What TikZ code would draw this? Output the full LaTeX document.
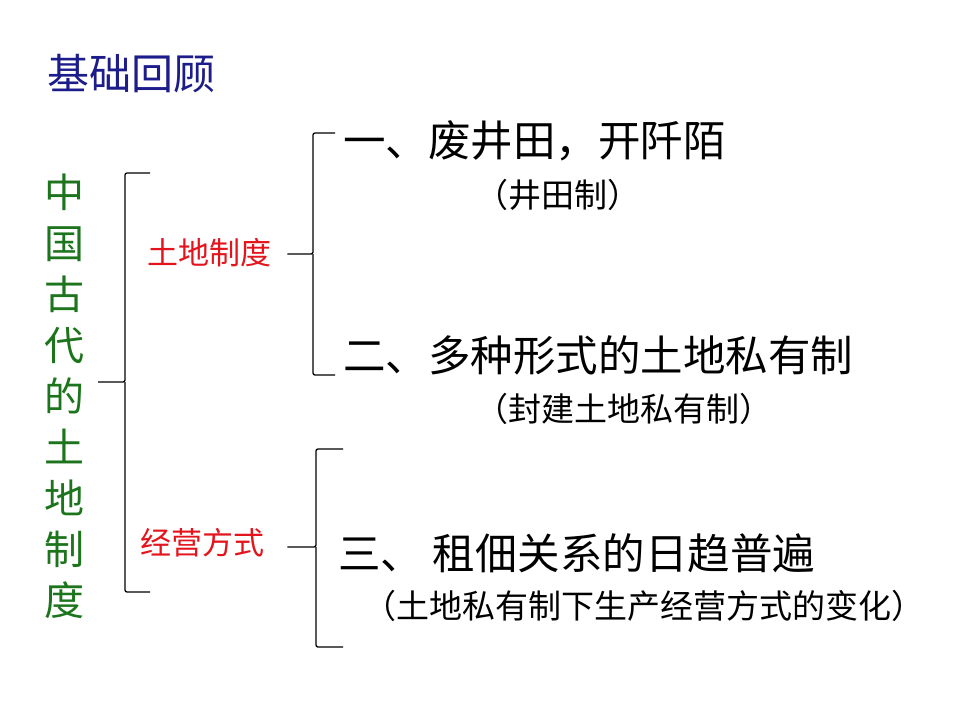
\documentclass[tikz,border=0pt]{standalone}
\usepackage{fontspec}
\setmainfont{Noto Sans CJK SC}
\usetikzlibrary{positioning}
\definecolor{Navy}{HTML}{1C1C8A}
\definecolor{Leaf}{HTML}{1C741C}
\definecolor{Crimson}{HTML}{E3141C}
\tikzset{
  heading/.style={inner sep=0pt,anchor=west,text=Navy,font=\fontsize{42}{42}\selectfont},
  column/.style={inner sep=0pt,align=center,text=Leaf,font=\fontsize{40}{51}\selectfont},
  branch/.style={inner sep=0pt,anchor=west,text=Crimson,font=\fontsize{31}{31}\selectfont},
  item/.style={inner sep=0pt,anchor=west,text=black,font=\fontsize{42.5}{42.5}\selectfont},
  note/.style={inner sep=0pt,anchor=west,text=black,font=\fontsize{33}{33}\selectfont},
  brace/.style={draw=black,line width=1.3pt,rounded corners=2pt},
}

\begin{document}
\begin{tikzpicture}[x=1pt,y=-1pt]
        \useasboundingbox (0,0) rectangle (960,720);
        \node[heading] (title) at (47,74) {基础回顾};
        \node[column] (topic) at (64,396) {中\\国\\古\\代\\的\\土\\地\\制\\度};
        \node[branch] (land) at (147,253) {土地制度};
        \node[branch] (manage) at (140,543) {经营方式};
        \node[item] (itemone) at (343,141) {一、废井田，开阡陌};
        \node[note] (noteone) at (475,195) {（井田制）};
        \node[item] (itemtwo) at (343,355) {二、多种形式的土地私有制};
        \node[note] (notetwo) at (475,409) {（封建土地私有制）};
        \node[item] (itemthree) at (338,553) {三、 租佃关系的日趋普遍};
        \node[note] (notethree) at (363,606) {（土地私有制下生产经营方式的变化）};
        % braces
        \coordinate (b1top) at (150,173);
        \coordinate (b1mid) at (125,382);
        \coordinate (b1bot) at (150,592);
        \coordinate (b1tip) at ([xshift=14pt]topic.east |- b1mid);
        \coordinate (b2top) at (335,133);
        \coordinate (b2mid) at (313,254);
        \coordinate (b2bot) at (335,375);
        \coordinate (b2tip) at ([xshift=16pt]land.east |- b2mid);
        \coordinate (b3top) at (343,449);
        \coordinate (b3mid) at (316,547);
        \coordinate (b3bot) at (343,647);
        \coordinate (b3tip) at ([xshift=23pt]manage.east |- b3mid);
        \draw[brace] (b1top) -| (b1mid) -- (b1tip);
        \draw[brace] (b1bot) -| (b1mid);
        \draw[brace] (b2top) -| (b2mid) -- (b2tip);
        \draw[brace] (b2bot) -| (b2mid);
        \draw[brace] (b3top) -| (b3mid) -- (b3tip);
        \draw[brace] (b3bot) -| (b3mid);
      \end{tikzpicture}
\end{document}
